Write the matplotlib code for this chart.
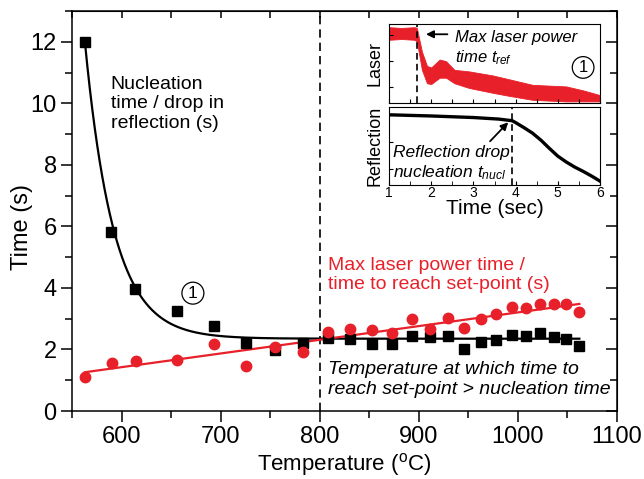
import numpy as np
import matplotlib
matplotlib.use("Agg")
import matplotlib.pyplot as plt
from matplotlib.ticker import MultipleLocator

plt.rcParams['font.family'] = ['Liberation Sans', 'DejaVu Sans']
plt.rcParams['mathtext.fontset'] = 'custom'
plt.rcParams['mathtext.rm'] = 'Liberation Sans'
plt.rcParams['mathtext.it'] = 'Liberation Sans:italic'

RED = '#e8202a'

# nucleation time (black squares)
nucl_T = [563, 589, 614, 656, 693, 726, 755, 783, 808, 831, 853, 873, 893, 911,
          929, 946, 963, 978, 994, 1008, 1022, 1036, 1049, 1062]
nucl_t = [12.0, 5.81, 3.96, 3.25, 2.76, 2.20, 1.98, 2.20, 2.38, 2.33, 2.17, 2.19,
          2.44, 2.40, 2.44, 2.02, 2.23, 2.32, 2.47, 2.44, 2.54, 2.42, 2.34, 2.10]

# max laser power time (red circles)
laser_T = [563, 590, 615, 656, 693, 726, 755, 783, 808, 831, 853, 873, 893, 911,
           929, 946, 963, 978, 994, 1008, 1022, 1036, 1049, 1062]
laser_t = [1.12, 1.57, 1.64, 1.66, 2.19, 1.47, 2.07, 1.93, 2.58, 2.67, 2.63, 2.55,
           2.98, 2.67, 3.03, 2.71, 2.98, 3.15, 3.39, 3.35, 3.48, 3.48, 3.48, 3.23]

# fits
red_fit_T = [563, 1062]
red_fit_t = [1.26, 3.48]
decay_start, decay_end = 563, 1062
decay_plateau, decay_amp, decay_width = 2.35, 9.65, 29.0

# inset: laser power trace (noise band) vs time
trace_time = [1.0, 1.3, 1.6, 1.66, 1.78, 1.9, 2.0, 2.2, 2.35, 2.55, 2.9, 3.45, 3.85,
              4.4, 5.2, 5.6, 6.0]
trace_hi = [0.96, 0.95, 0.96, 0.95, 0.65, 0.47, 0.45, 0.55, 0.53, 0.42, 0.40, 0.35,
            0.30, 0.23, 0.21, 0.16, 0.10]
trace_lo = [0.80, 0.81, 0.80, 0.78, 0.42, 0.25, 0.24, 0.32, 0.32, 0.25, 0.19, 0.13,
            0.09, 0.04, 0.02, 0.02, 0.02]
t_ref = 1.66

# inset: reflection vs time
refl_time = [1.0, 2.0, 3.0, 3.6, 3.92, 4.0, 4.2, 4.4, 4.6, 4.8, 5.0, 5.2, 5.4,
             5.6, 5.8, 6.0]
refl_val = [0.90, 0.885, 0.865, 0.845, 0.824, 0.80, 0.735, 0.665, 0.575, 0.47,
            0.37, 0.295, 0.23, 0.175, 0.115, 0.05]
t_nucl = 3.92

fig = plt.figure(figsize=(6.44, 4.79), dpi=100)
ax = fig.add_axes([72/644, 1-411/479, 545/644, 400/479])

TT = np.linspace(decay_start, decay_end, 400)
ax.plot(TT, decay_plateau + decay_amp*np.exp(-(TT-decay_start)/decay_width),
        color='black', lw=1.6, zorder=2)
ax.plot(red_fit_T, red_fit_t, color=RED, lw=1.6, zorder=2)
ax.plot(nucl_T, nucl_t, 's', color='black', ms=6.5, zorder=3)
ax.plot(laser_T, laser_t, 'o', color=RED, ms=7.5, zorder=3)
ax.axvline(800, color='black', ls=(0, (5, 3)), lw=1.2, zorder=1)

ax.set_xlim(550, 1100)
ax.set_ylim(0, 13)
ax.xaxis.set_major_locator(MultipleLocator(100))
ax.xaxis.set_minor_locator(MultipleLocator(50))
ax.yaxis.set_major_locator(MultipleLocator(2))
ax.yaxis.set_minor_locator(MultipleLocator(1))
ax.tick_params(which='both', direction='out', labelsize=17, width=1.1)
ax.tick_params(which='major', length=8, pad=3)
ax.tick_params(which='minor', length=5)
for s in ax.spines.values():
    s.set_linewidth(1.1)

secx = ax.secondary_xaxis('top')
secx.xaxis.set_major_locator(MultipleLocator(100))
secx.xaxis.set_minor_locator(MultipleLocator(50))
secx.tick_params(which='both', direction='in', labeltop=False, length=5, width=1.1)
secy = ax.secondary_yaxis('right')
secy.yaxis.set_major_locator(MultipleLocator(2))
secy.yaxis.set_minor_locator(MultipleLocator(1))
secy.tick_params(which='both', direction='in', labelright=False, width=1.1)
secy.tick_params(which='major', length=8)
secy.tick_params(which='minor', length=5)

ax.set_xlabel('Temperature ($^{\\rm o}$C)', fontsize=16, labelpad=2)
ax.set_ylabel('Time (s)', fontsize=17)
ax.yaxis.set_label_coords(-0.072, 0.46)

ax.text(589, 10.9, 'Nucleation\ntime / drop in\nreflection (s)', fontsize=14,
        va='top', ha='left')
ax.text(808, 4.42, 'Max laser power time /\ntime to reach set-point (s)', fontsize=14,
        color=RED, va='center', ha='left')
ax.text(808, 1.03, 'Temperature at which time to\nreach set-point > nucleation time',
        fontsize=14, style='italic', va='center', ha='left')
ax.text(672, 3.83, '1', fontsize=12.5, ha='center', va='center',
        bbox=dict(boxstyle='circle,pad=0.2', fc='white', ec='black', lw=0.9))

# inset, top panel
ax1 = fig.add_axes([389/644, 1-103/479, 211/644, 79/479])
ax1.fill_between(trace_time, trace_lo, trace_hi, color=RED, lw=0.6, ec=RED)
ax1.axvline(t_ref, color='black', ls=(0, (4, 2.5)), lw=1.2)
ax1.set_xlim(1, 6)
ax1.set_ylim(0, 1)
ax1.xaxis.set_major_locator(MultipleLocator(0.5))
ax1.set_yticks([0.2, 0.53, 0.86])
ax1.tick_params(direction='in', length=3, labelbottom=False, labelleft=False)
ax1.set_ylabel('Laser', fontsize=13, labelpad=4)
ax1.text(2.56, 0.69, 'Max laser power\ntime $t_{ref}$', fontsize=12,
         style='italic', va='center', ha='left')
ax1.annotate('', xy=(1.81, 0.87), xytext=(2.45, 0.87),
             arrowprops=dict(arrowstyle='-|>', color='black', lw=1.3,
                             mutation_scale=11))
ax1.text(5.6, 0.45, '1', fontsize=12, ha='center', va='center',
         bbox=dict(boxstyle='circle,pad=0.2', fc='none', ec='black', lw=0.9))

# inset, bottom panel
ax2 = fig.add_axes([389/644, 1-185/479, 211/644, 78/479])
ax2.plot(refl_time, refl_val, color='black', lw=2.4)
ax2.axvline(t_nucl, color='black', ls=(0, (4, 2.5)), lw=1.2)
ax2.set_xlim(1, 6)
ax2.set_ylim(0, 1)
ax2.xaxis.set_major_locator(MultipleLocator(1))
ax2.xaxis.set_minor_locator(MultipleLocator(0.5))
ax2.set_yticks([0.2, 0.55, 0.9])
ax2.tick_params(which='both', direction='in', length=3, labelsize=10, pad=1,
                labelleft=False)
ax2.set_xlabel('Time (sec)', fontsize=15, labelpad=-1)
ax2.set_ylabel('Reflection', fontsize=13, labelpad=4)
ax2.text(1.09, 0.276, 'Reflection drop\nnucleation $t_{nucl}$', fontsize=12.5,
         style='italic', va='center', ha='left')
ax2.annotate('', xy=(3.87, 0.83), xytext=(3.35, 0.535),
             arrowprops=dict(arrowstyle='-|>', color='black', lw=1.3,
                             mutation_scale=11))

fig.savefig('out.png', dpi=100)
